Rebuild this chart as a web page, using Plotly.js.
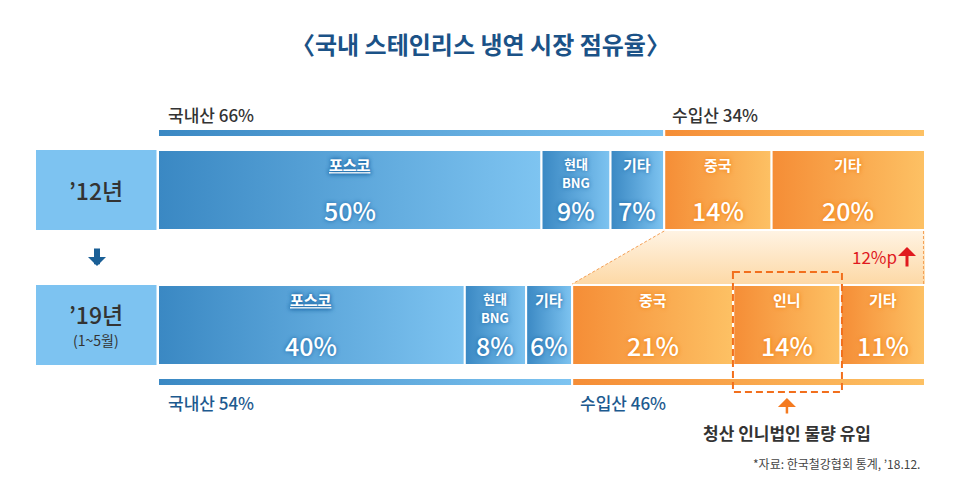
<!DOCTYPE html>
<html>
<head>
<meta charset="utf-8">
<script src="https://cdn.plot.ly/plotly-3.0.1.min.js"></script>
<style>body{margin:0;background:#fff}</style>
</head>
<body>
<div id="chart" style="width:960px;height:484px"></div>
<script>
// data
const years = ["’12년", "’19년"];
const yearNotes = ["", "(1~5월)"];
const names12 = ["포스코", "현대<br>BNG", "기타", "중국", "기타"];
const shares12 = [50, 9, 7, 14, 20];
const names19 = ["포스코", "현대<br>BNG", "기타", "중국", "인니", "기타"];
const shares19 = [40, 8, 6, 21, 14, 11];
const domesticCount = [3, 3];      // first n segments are domestic
const originNames = ["국내산", "수입산"];
const importChange = "12%p";

const blueScale = [[0, "#3a88c3"], [1, "#7ec4f1"]];
const orangeScale = [[0, "#f58d36"], [1, "#fdc164"]];
const peachScale = [[0, "#fdd9a6"], [1, "#fff3e3"]];
const FONT = '"Noto Sans CJK KR", "Noto Sans", sans-serif';

const rows = [
    {names: names12, shares: shares12, top: 150, bottom: 230},
    {names: names19, shares: shares19, top: 285, bottom: 365}
];

function sum(a) { return a.reduce((s, v) => s + v, 0); }

function rect(x0, x1, y0, y1, scale, lineW) {
    return {
        type: "scatter", xaxis: "x", yaxis: "y",
        x: [x0, x1, x1, x0, x0], y: [y0, y0, y1, y1, y0],
        mode: "lines", fill: "toself",
        line: {color: "white", width: lineW},
        fillgradient: {type: "horizontal", colorscale: scale},
        hoverinfo: "skip", showlegend: false
    };
}

let traces = [];
let annotations = [];
let shapes = [];

// segments of each row
rows.forEach((row, r) => {
    let acc = 0;
    row.shares.forEach((v, i) => {
        const imported = i >= domesticCount[r];
        traces.push(rect(acc, acc + v, row.top, row.bottom, imported ? orangeScale : blueScale, 2));
        const mid = acc + v / 2;
        const glow = imported ? "0px 0px 4px #ef7d0c" : "0px 0px 4px #1b67a6";
        // name lines, tighter than plotly's own line height
        const lines = row.names[i].split("<br>");
        lines.forEach((line, k) => {
            annotations.push({
                xref: "x", yref: "y", x: mid, y: row.top + (lines.length > 1 ? 13 : 14) + k * 19,
                text: line, showarrow: false, borderpad: 0,
                font: {family: FONT, size: lines.length > 1 ? 13 : 15, color: "white", weight: 700, shadow: glow,
                    lineposition: line === "포스코" ? "under" : "none"}
            });
        });
        annotations.push({
            xref: "x", yref: "y", x: mid, y: row.top + 60,
            text: v + "%", showarrow: false, borderpad: 0,
            font: {family: FONT, size: 25, color: "white", weight: 500, shadow: glow}
        });
        acc += v;
    });
});

// domestic / imported summary bars
const dom12 = sum(shares12.slice(0, domesticCount[0]));
const dom19 = sum(shares19.slice(0, domesticCount[1]));
const summary = [
    {dom: dom12, y0: 129, y1: 137, labelY: 114, color: "#333333"},
    {dom: dom19, y0: 378, y1: 386, labelY: 402, color: "#1d5a8f"}
];
summary.forEach(s => {
    traces.push(rect(0, s.dom, s.y0, s.y1, blueScale, 2));
    traces.push(rect(s.dom, 100, s.y0, s.y1, orangeScale, 2));
    annotations.push({
        xref: "x", yref: "y", x: 0, y: s.labelY, xanchor: "left", xshift: 8,
        text: originNames[0] + " " + s.dom + "%", showarrow: false,
        font: {family: FONT, size: 17, color: s.color, weight: 500}
    });
    annotations.push({
        xref: "x", yref: "y", x: s.dom, y: s.labelY, xanchor: "left", xshift: 6,
        text: originNames[1] + " " + (100 - s.dom) + "%", showarrow: false,
        font: {family: FONT, size: 17, color: s.color, weight: 500}
    });
});

// connector between the import parts of both rows
traces.push({
    type: "scatter", xaxis: "x", yaxis: "y",
    x: [dom12, 100, 100, dom19, dom12], y: [231, 231, 284, 284, 231],
    mode: "lines", fill: "toself", line: {width: 0},
    fillgradient: {type: "vertical", colorscale: peachScale},
    hoverinfo: "skip", showlegend: false
});
traces.push({
    type: "scatter", xaxis: "x", yaxis: "y",
    x: [dom12, dom19], y: [231, 284], mode: "lines",
    line: {color: "#f4a055", width: 1, dash: "3px,2px"},
    hoverinfo: "skip", showlegend: false
});
traces.push({
    type: "scatter", xaxis: "x", yaxis: "y",
    x: [99.8, 99.8], y: [231, 284], mode: "lines",
    line: {color: "#f4a055", width: 1, dash: "3px,2px"},
    hoverinfo: "skip", showlegend: false
});

// year boxes
rows.forEach((row, r) => {
    shapes.push({type: "rect", xref: "x2", yref: "y", x0: 36, x1: 156.5, y0: row.top, y1: row.bottom,
        fillcolor: "#7dc3f1", line: {width: 0}, layer: "below"});
    annotations.push({
        xref: "x2", yref: "y", x: 96, y: yearNotes[r] ? row.top + 29 : row.top + 40,
        text: years[r], showarrow: false, borderpad: 0,
        font: {family: FONT, size: 23, color: "#333333", weight: 500}
    });
    if (yearNotes[r]) {
        annotations.push({
            xref: "x2", yref: "y", x: 96, y: row.top + 55,
            text: yearNotes[r], showarrow: false, borderpad: 0,
            font: {family: FONT, size: 14, color: "#333333"}
        });
    }
});

// Indonesia highlight
const inniIdx = names19.indexOf("인니");
const inniMid = sum(shares19.slice(0, inniIdx)) + shares19[inniIdx] / 2;
shapes.push({type: "rect", xref: "x", yref: "y", xsizemode: "pixel", xanchor: inniMid,
    x0: -54, x1: 55, y0: 272, y1: 392,
    line: {color: "#f26f1c", width: 2, dash: "7px,4px"}});
annotations.push({
    xref: "x", yref: "y", x: inniMid, y: 398, ax: 0, ay: 17,
    text: "", showarrow: true, arrowhead: 1, arrowsize: 1.2, arrowwidth: 2.5, arrowcolor: "#f47a20"
});
annotations.push({
    xref: "x", yref: "y", x: inniMid, y: 432, text: "청산 인니법인 물량 유입", showarrow: false,
    font: {family: FONT, size: 17, color: "#333333", weight: 700}
});

// change marker
annotations.push({
    xref: "x2", yref: "y", x: 899, y: 256, xanchor: "right", text: importChange, showarrow: false,
    font: {family: FONT, size: 17, color: "#e0191e"}
});
annotations.push({
    xref: "x2", yref: "y", x: 907, y: 247, ax: 0, ay: 21,
    text: "", showarrow: true, arrowhead: 1, arrowsize: 1, arrowwidth: 3, arrowcolor: "#e0191e"
});

// down arrow between rows
annotations.push({
    xref: "x2", yref: "y", x: 97, y: 266, ax: 0, ay: -19,
    text: "", showarrow: true, arrowhead: 1, arrowsize: 0.5, arrowwidth: 6, arrowcolor: "#1a5f96"
});

// title and source
annotations.push({
    xref: "x2", yref: "y", x: 480, y: 43, text: "〈국내 스테인리스 냉연 시장 점유율〉", showarrow: false,
    font: {family: FONT, size: 24, color: "#1b5287", weight: 700}
});
annotations.push({
    xref: "x2", yref: "y", x: 922, y: 463, xanchor: "right", text: "*자료: 한국철강협회 통계, ’18.12.", showarrow: false,
    font: {family: FONT, size: 12, color: "#444444"}
});

const layout = {
    width: 960, height: 484,
    margin: {l: 0, r: 0, t: 0, b: 0},
    paper_bgcolor: "white", plot_bgcolor: "rgba(0,0,0,0)",
    showlegend: false,
    xaxis: {domain: [158 / 960, 925 / 960], range: [0, 100], visible: false, fixedrange: true, anchor: "y"},
    xaxis2: {domain: [0, 1], range: [0, 960], visible: false, fixedrange: true, anchor: "y"},
    yaxis: {domain: [0, 1], range: [484, 0], visible: false, fixedrange: true},
    shapes: shapes,
    annotations: annotations
};

Plotly.newPlot("chart", traces, layout, {displayModeBar: false, staticPlot: true});
</script>
</body>
</html>
